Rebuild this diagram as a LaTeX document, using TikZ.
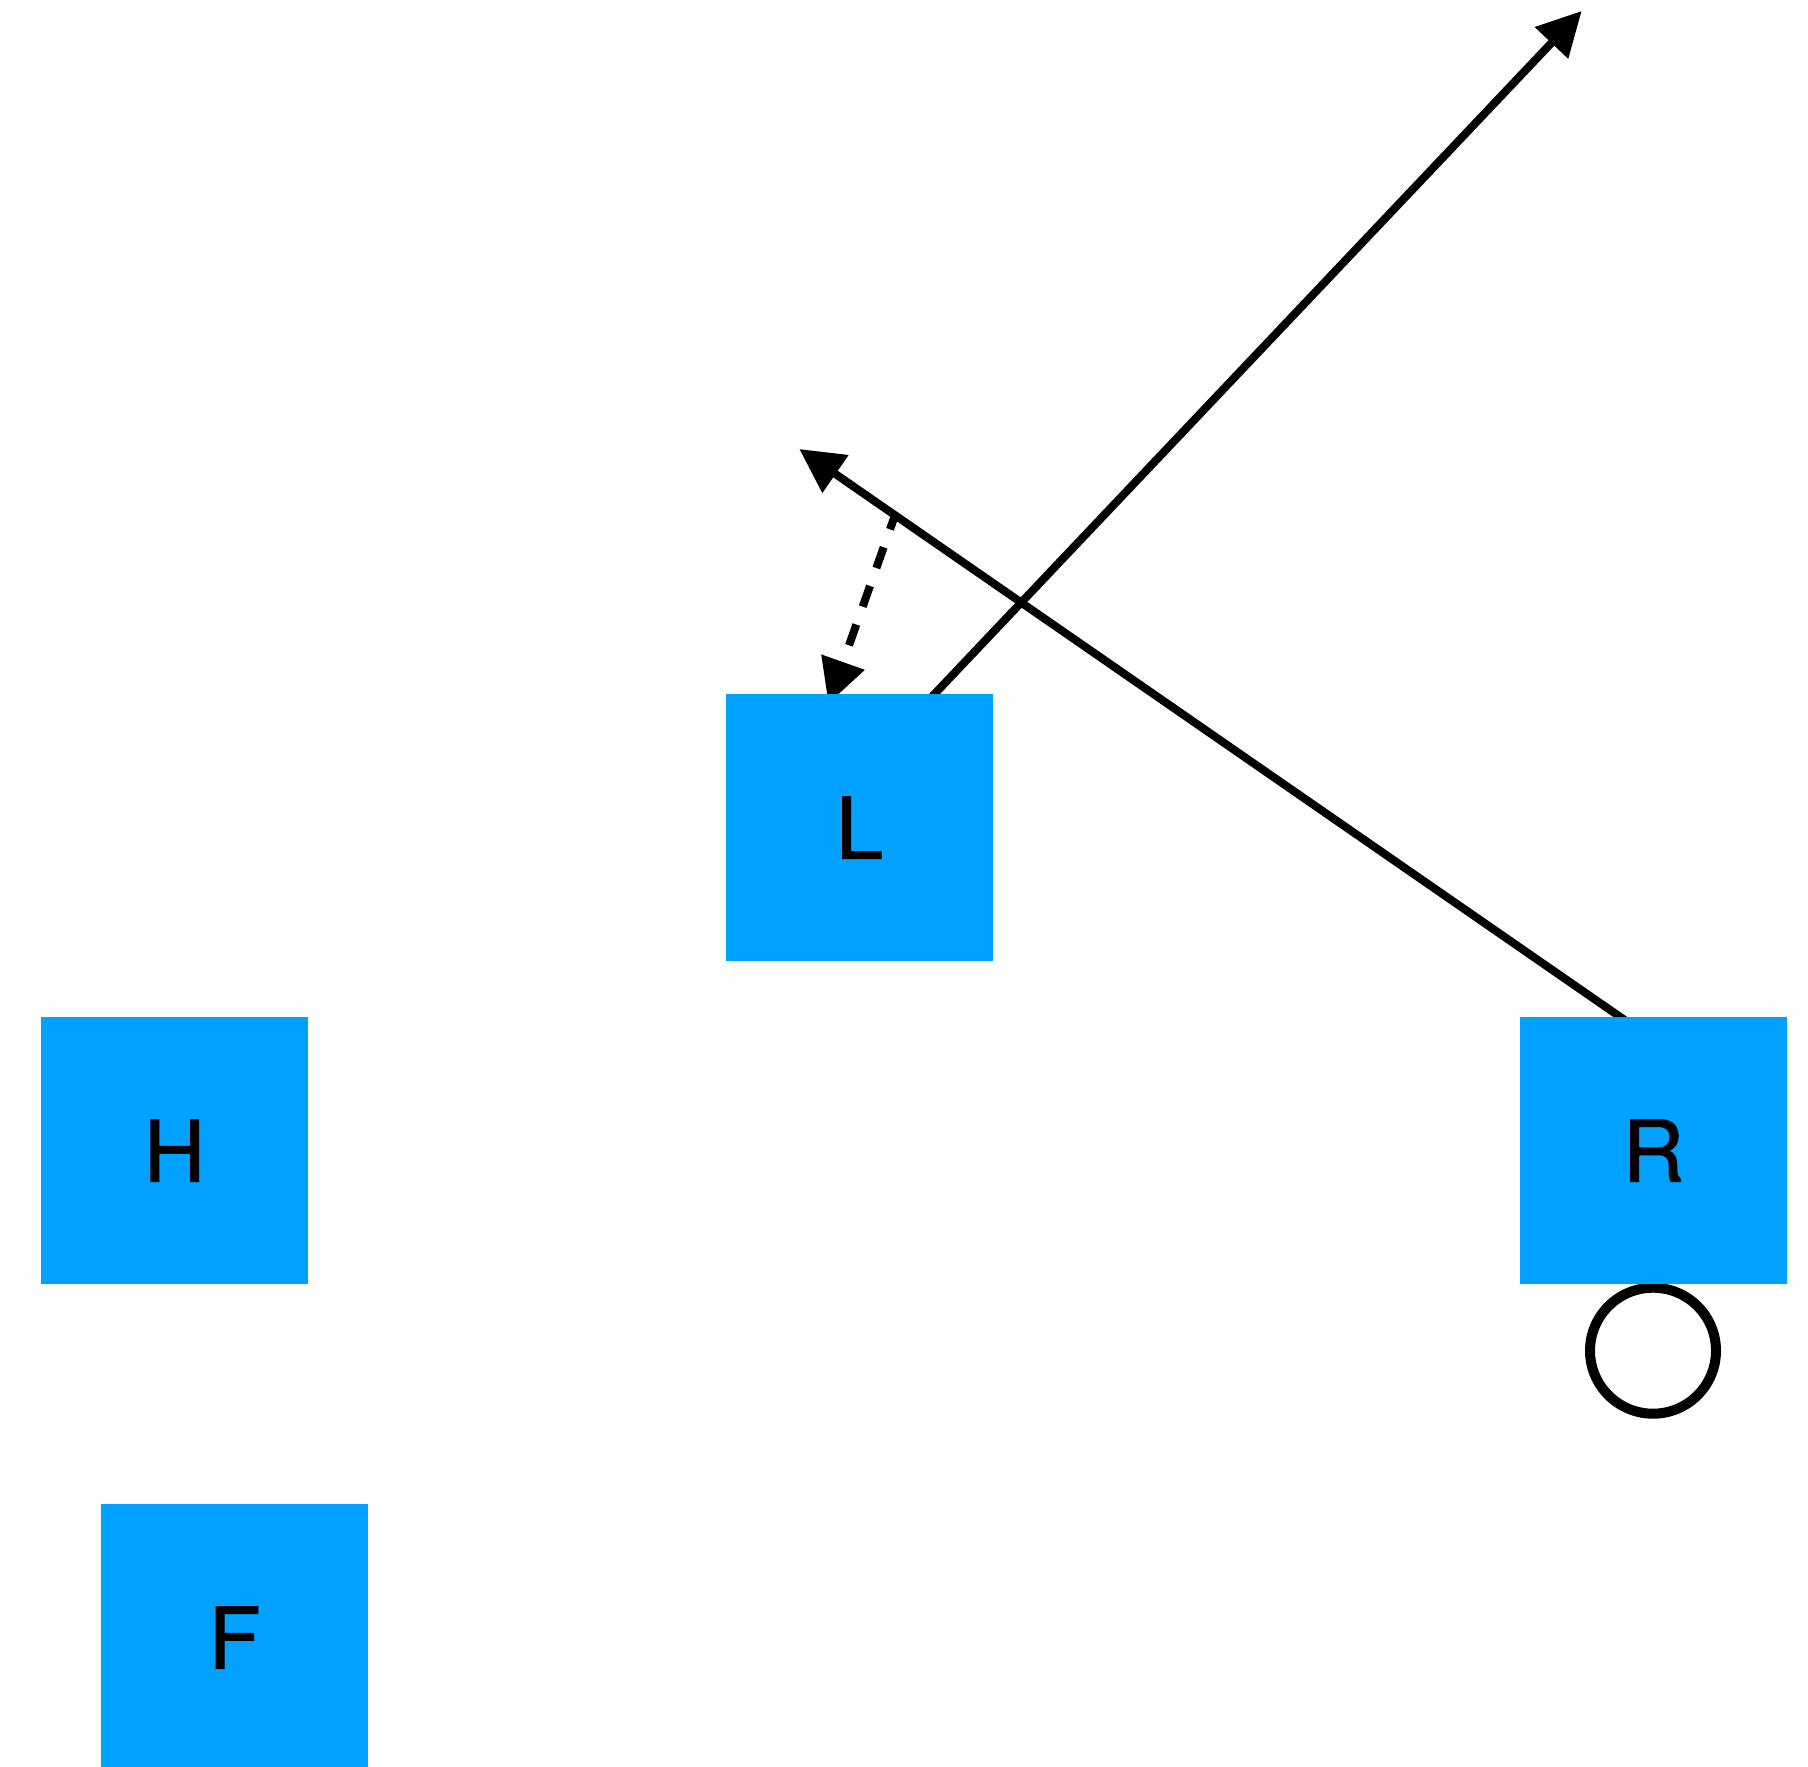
\documentclass[tikz,border=0pt]{standalone}
\usepackage{fontspec}
\newfontface\lblfont[RawFeature={embolden=1.2}]{TeX Gyre Heros}
\usetikzlibrary{arrows.meta}
\definecolor{boxblue}{RGB}{0,161,255}
\pgfdeclarelayer{back}
\pgfsetlayers{back,main}
\tikzset{
  block/.style={rectangle, fill=boxblue, draw=none, inner sep=0pt,
    minimum width=267pt, minimum height=267pt,
    font=\lblfont\fontsize{85}{90}\selectfont},
  link/.style={line width=8pt, draw=black,
    -{Triangle[length=44pt,width=44pt]}},
  hint/.style={link, dash pattern=on 22pt off 19pt, dash phase=7pt},
  ring/.style={draw=black, line width=10pt, fill=white}
}
\begin{document}
\begin{tikzpicture}[x=1pt,y=-1pt]
  \useasboundingbox (0,0) rectangle (1808,1767);

  % blocks
  \node[block] (H) at (174.5,1150.5) {H};
  \node[block] (F) at (234.5,1637.5) {F};
  \node[block] (L) at (859.5,827.5) {L};
  \node[block] (R) at (1653.5,1150.5) {R};

  % free ends of the connectors
  \coordinate (l0) at (872,760);
  \coordinate (l1) at (1581.7,11);
  \coordinate (r0) at (1668,1050);
  \coordinate (r1) at (799.3,449);
  \coordinate (d0) at (895,515.2);
  \coordinate (d1) at (828.4,703.6);

  \begin{pgfonlayer}{back}
    \draw[link] (l0) -- (l1);
    \draw[link] (r0) -- (r1);
    \draw[hint] (d0) -- (d1);
    \node[ring, circle, minimum size=126pt, inner sep=0pt] (c) at (1653,1350.7) {};
  \end{pgfonlayer}
\end{tikzpicture}
\end{document}
